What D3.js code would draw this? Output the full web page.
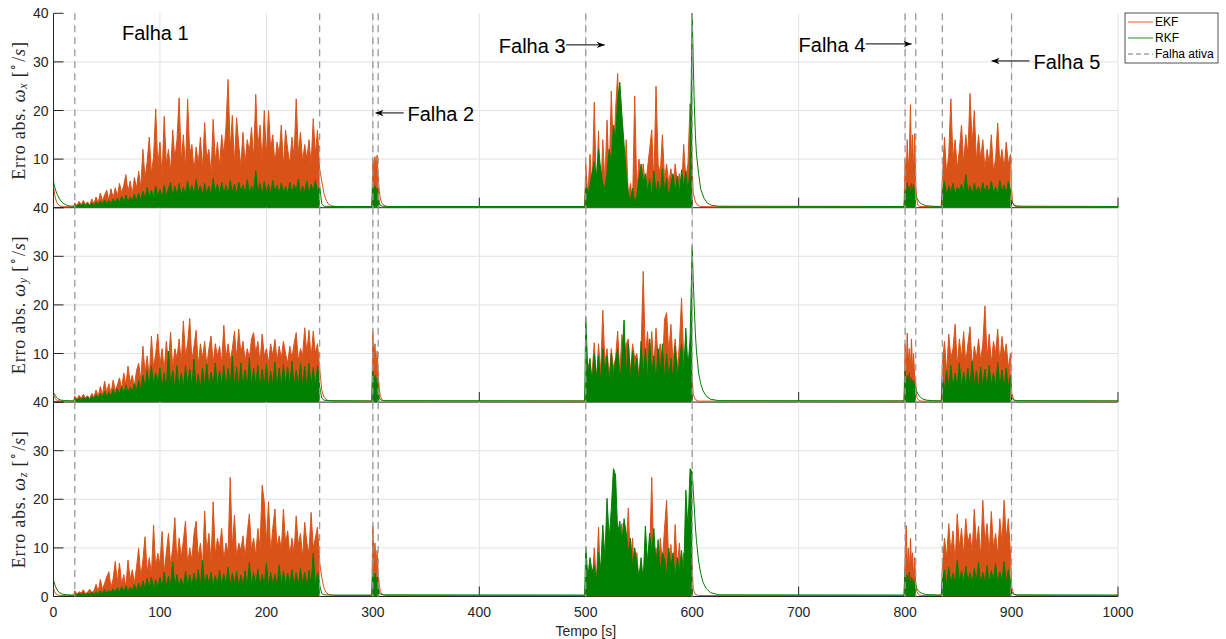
<!DOCTYPE html>
<html>
<head>
<meta charset="utf-8">
<script src="https://cdn.jsdelivr.net/npm/d3@7"></script>
<style>
  html, body { margin: 0; padding: 0; background: #ffffff; }
  svg { display: block; }
</style>
</head>
<body>
<svg id="chart" width="1226" height="639"></svg>
<script>
// ---------------------------------------------------------------
// Absolute angular-rate estimation error, EKF vs RKF, 3 axes
// ---------------------------------------------------------------
const xTicks = [0, 100, 200, 300, 400, 500, 600, 700, 800, 900, 1000];
const yTicks = [0, 10, 20, 30, 40];
const axisNames = ["x", "y", "z"];
const seriesNames = ["EKF", "RKF", "Falha ativa"];

// instants where a fault starts / ends [s]
const faultEdges = [20, 250, 300, 305, 500, 600, 800, 810, 835, 900];

// sampling of each fault window: [start time, step] (s)
const faultGrid = [[20, 2], [300, 1], [500, 2], [800, 1], [835, 2]];

// ---- omega_x, EKF ----
const ekfXRest = [[0, 4.5], [1, 2.8], [2, 1.8], [3, 1.1], [4, 0.7], [6, 0.35], [9, 0.2], [19, 0.2],
  [252, 5.5], [254, 3.0], [256, 1.6], [258, 0.8], [261, 0.4], [265, 0.25], [280, 0.2], [299, 0.2],
  [307, 2.0], [308, 1.1], [310, 0.5], [313, 0.25], [330, 0.2], [499, 0.2],
  [601, 3.0], [603, 1.2], [605, 0.5], [608, 0.25], [620, 0.2], [799, 0.2],
  [811, 1.5], [812, 0.5], [814, 0.25], [834, 0.2],
  [900, 4.0], [901, 1.0], [903, 0.3], [910, 0.2], [1000, 0.2]];
const ekfX1 = [
  1.0, 0.4, 1.3, 0.6, 1.5, 0.7, 1.2, 0.5, 1.8, 0.8,
  2.2, 1.0, 3.0, 1.4, 2.6, 3.6, 1.5, 3.9, 2.0, 4.1,
  2.4, 5.0, 3.0, 4.6, 6.8, 3.2, 5.5, 2.8, 6.2, 4.0,
  7.5, 4.2, 12.0, 6.0, 9.5, 14.5, 7.0, 10.5, 20.3, 8.5,
  13.5, 6.5, 18.8, 9.0, 12.0, 7.5, 16.0, 10.0, 14.0, 22.6,
  9.5, 15.0, 8.0, 22.3, 11.0, 13.0, 7.5, 12.5, 9.0, 14.5,
  8.0, 17.5, 10.0, 12.0, 7.0, 18.2, 9.5, 13.5, 8.5, 15.0,
  11.0, 16.5, 26.4, 12.0, 19.0, 9.0, 18.5, 13.0, 8.5, 15.5,
  9.0, 14.0, 11.5, 16.5, 10.0, 23.3, 12.0, 17.0, 9.5, 20.0,
  10.5, 20.0, 12.0, 15.0, 9.0, 13.5, 11.0, 17.0, 8.5, 16.0,
  12.0, 9.0, 14.5, 10.5, 22.4, 11.0, 15.5, 9.5, 13.0, 10.0,
  14.0, 9.0, 18.3, 11.0, 16.0, 8.0];
const ekfX2 = [10.0, 7.5, 10.5, 8.0, 10.8, 6.5, 3.5];
const ekfX3 = [
  9.0, 2.5, 11.0, 4.0, 21.7, 3.0, 15.8, 1.0, 14.0, 5.0,
  18.0, 6.0, 24.0, 10.0, 20.0, 27.6, 12.0, 17.0, 3.0, 14.0,
  2.0, 5.0, 1.0, 23.0, 3.0, 10.0, 5.0, 9.0, 4.0, 8.0,
  12.0, 16.0, 5.0, 25.0, 9.0, 7.0, 15.0, 6.0, 9.0, 5.0,
  8.0, 4.0, 9.0, 5.0, 7.0, 3.0, 13.0, 6.0, 9.0, 21.4,
  8.0];
const ekfX4 = [10.0, 6.0, 14.0, 8.0, 11.0, 21.2, 9.0, 15.0, 7.0, 15.2, 5.0];
const ekfX5 = [
  6.0, 14.5, 7.0, 11.0, 22.4, 10.0, 14.0, 8.0, 12.0, 17.0,
  9.0, 15.0, 11.0, 23.5, 13.0, 20.0, 9.5, 15.0, 10.0, 14.0,
  8.0, 12.0, 9.0, 15.0, 7.5, 10.0, 17.4, 9.0, 12.0, 8.0,
  13.5, 9.0, 11.0];

// ---- omega_x, RKF ----
const rkfXRest = [[0, 5.3], [1, 4.4], [2, 3.6], [3, 3.0], [4, 2.5], [6, 1.7], [8, 1.1], [10, 0.8], [12, 0.55], [15, 0.35], [19, 0.3],
  [252, 0.8], [254, 0.3], [260, 0.25], [299, 0.25],
  [307, 0.5], [309, 0.3], [320, 0.25], [499, 0.25],
  [601, 30], [602, 21], [603, 15], [604, 11], [606, 7.0], [608, 3.8], [611, 2.0], [614, 1.0], [618, 0.5], [625, 0.3], [799, 0.25],
  [811, 2.0], [813, 1.2], [816, 0.7], [820, 0.4], [826, 0.3], [834, 0.25],
  [900, 1.5], [902, 0.6], [905, 0.35], [912, 0.3], [1000, 0.25]];
const rkfX1 = [
  0.6, 0.3, 0.8, 0.4, 0.9, 0.5, 0.8, 0.4, 1.0, 0.5,
  1.2, 0.6, 1.4, 0.7, 1.6, 0.8, 1.5, 0.9, 1.8, 1.0,
  2.0, 1.0, 2.3, 1.2, 2.6, 1.3, 2.2, 1.4, 2.8, 1.5,
  3.0, 1.6, 3.4, 1.8, 4.2, 2.0, 3.6, 1.9, 4.5, 2.2,
  3.8, 2.0, 4.6, 2.4, 3.9, 5.2, 2.3, 4.4, 2.6, 5.0,
  2.5, 4.2, 2.8, 5.5, 3.0, 4.6, 2.4, 5.8, 3.2, 4.5,
  2.6, 5.0, 3.0, 4.4, 2.5, 6.0, 3.2, 4.8, 2.8, 5.2,
  3.0, 4.6, 2.7, 5.6, 3.1, 4.9, 2.6, 5.3, 3.3, 4.7,
  2.8, 5.8, 3.0, 4.5, 3.4, 7.6, 3.0, 5.0, 2.7, 5.4,
  3.1, 4.8, 2.8, 5.6, 3.3, 4.6, 2.9, 5.1, 3.2, 4.4,
  2.7, 5.3, 3.0, 4.7, 3.4, 5.9, 2.8, 4.5, 3.1, 5.5,
  2.9, 4.8, 3.3, 5.6, 3.0, 4.6];
const rkfX2 = [4.2, 3.0, 4.5, 3.2, 4.0, 2.5, 1.0];
const rkfX3 = [
  5.0, 3.0, 4.5, 7.0, 9.5, 6.0, 12.0, 8.0, 5.0, 4.0,
  7.0, 12.0, 9.0, 17.0, 14.0, 22.0, 25.8, 19.0, 13.0, 7.0,
  3.0, 1.5, 4.0, 1.0, 2.5, 6.0, 9.0, 5.0, 7.0, 3.0,
  6.0, 2.0, 7.5, 3.0, 5.5, 2.5, 8.0, 3.5, 6.0, 2.0,
  5.0, 7.0, 3.0, 6.5, 2.5, 7.8, 4.0, 7.5, 3.0, 8.0,
  40.5];
const rkfX4 = [3.5, 2.0, 5.2, 3.0, 4.5, 2.5, 5.0, 3.2, 4.8, 2.8, 3.0];
const rkfX5 = [
  3.0, 5.5, 2.5, 4.5, 3.2, 5.0, 2.8, 4.2, 3.5, 4.8,
  3.0, 6.8, 3.2, 4.5, 2.7, 5.0, 3.3, 4.4, 2.9, 5.2,
  3.1, 4.6, 2.8, 5.5, 3.0, 4.3, 2.6, 5.6, 3.2, 4.7,
  2.9, 5.4, 3.5];

// ---- omega_y, EKF ----
const ekfYRest = [[0, 1.5], [2, 0.6], [4, 0.3], [8, 0.2], [19, 0.2],
  [252, 2.5], [254, 1.0], [257, 0.4], [262, 0.2], [299, 0.2],
  [307, 1.2], [309, 0.4], [312, 0.2], [499, 0.2],
  [601, 1.5], [603, 0.5], [606, 0.2], [799, 0.2],
  [811, 1.0], [813, 0.3], [816, 0.2], [834, 0.2],
  [900, 2.0], [902, 0.5], [905, 0.2], [1000, 0.2]];
const ekfY1 = [
  1.2, 0.6, 1.4, 0.8, 1.6, 0.9, 1.3, 0.7, 1.8, 1.0,
  2.5, 1.2, 3.2, 1.5, 4.3, 2.0, 3.8, 1.8, 4.5, 2.4,
  3.5, 5.0, 2.8, 6.0, 3.5, 7.4, 4.0, 5.5, 3.2, 6.5,
  8.0, 4.5, 11.5, 6.0, 9.5, 5.0, 13.6, 7.0, 10.0, 14.0,
  7.5, 11.0, 6.5, 12.5, 8.0, 14.4, 7.0, 11.0, 9.0, 13.0,
  8.0, 16.7, 9.5, 12.0, 17.2, 8.5, 11.5, 14.8, 7.5, 12.0,
  9.0, 12.5, 7.5, 11.0, 13.6, 8.0, 12.0, 9.5, 11.5, 8.0,
  15.8, 9.0, 12.0, 8.5, 11.0, 14.6, 9.0, 15.0, 10.0, 12.5,
  8.5, 11.0, 9.0, 13.0, 14.3, 10.0, 12.5, 8.0, 14.0, 9.5,
  11.0, 8.0, 12.0, 9.5, 12.9, 8.5, 11.5, 9.0, 12.5, 10.0,
  8.0, 11.5, 9.0, 12.0, 14.3, 8.5, 11.0, 9.5, 15.3, 10.0,
  14.8, 9.0, 14.6, 10.0, 12.0, 7.0];
const ekfY2 = [14.6, 8.0, 12.0, 7.0, 10.5, 6.0, 3.0];
const ekfY3 = [
  5.0, 8.0, 3.0, 6.0, 12.2, 4.0, 12.0, 6.0, 18.9, 8.0,
  11.0, 5.0, 11.0, 7.0, 9.0, 14.6, 6.0, 13.9, 8.0, 12.0,
  13.0, 6.0, 12.0, 9.0, 10.0, 5.0, 11.0, 26.9, 9.0, 14.5,
  8.0, 14.5, 7.0, 15.2, 9.0, 12.0, 6.0, 17.0, 18.4, 10.0,
  16.0, 8.0, 13.0, 7.0, 12.0, 21.4, 9.0, 11.0, 6.0, 10.0,
  5.0];
const ekfY4 = [12.0, 6.0, 14.2, 8.0, 11.0, 7.0, 13.0, 6.5, 10.0, 5.0, 4.0];
const ekfY5 = [
  8.0, 12.5, 6.0, 14.0, 9.0, 11.0, 16.0, 7.5, 13.0, 9.0,
  14.5, 8.0, 12.0, 15.5, 7.0, 11.5, 9.0, 13.0, 8.5, 12.0,
  19.8, 9.0, 14.0, 8.0, 12.5, 10.0, 15.0, 8.0, 13.5, 9.5,
  12.0, 7.0, 10.0];

// ---- omega_y, RKF ----
const rkfYRest = [[0, 2.0], [2, 1.2], [4, 0.7], [7, 0.4], [12, 0.3], [19, 0.25],
  [252, 0.8], [254, 0.4], [258, 0.3], [299, 0.25],
  [307, 0.5], [309, 0.3], [499, 0.25],
  [601, 25], [602, 19], [603, 14], [604, 10.5], [606, 6.0], [608, 3.8], [610, 2.4], [613, 1.3], [617, 0.6], [625, 0.3], [799, 0.25],
  [811, 2.2], [813, 1.3], [816, 0.7], [820, 0.4], [826, 0.3], [834, 0.25],
  [900, 1.0], [902, 0.4], [906, 0.3], [1000, 0.25]];
const rkfY1 = [
  0.8, 0.4, 0.9, 0.5, 1.0, 0.6, 1.1, 0.5, 1.2, 0.7,
  1.5, 0.8, 1.8, 1.0, 2.2, 1.1, 2.0, 1.2, 2.6, 1.4,
  2.8, 1.6, 3.2, 1.8, 3.5, 2.0, 3.0, 2.2, 3.8, 2.4,
  4.5, 2.5, 5.5, 3.0, 6.5, 3.2, 7.5, 3.5, 6.0, 4.0,
  7.0, 3.0, 6.0, 2.6, 10.5, 3.2, 6.5, 2.8, 7.5, 3.0,
  6.0, 2.7, 7.5, 3.3, 6.8, 2.9, 8.8, 3.1, 5.8, 2.6,
  7.0, 3.2, 7.8, 2.8, 6.2, 3.4, 8.0, 2.9, 6.5, 3.1,
  7.6, 2.7, 6.9, 3.3, 9.5, 3.0, 7.2, 2.8, 8.0, 3.2,
  6.6, 3.0, 9.0, 2.9, 7.0, 3.3, 7.6, 2.7, 6.8, 3.1,
  7.8, 2.8, 6.4, 3.2, 8.2, 3.0, 7.0, 2.9, 7.7, 3.3,
  7.2, 3.1, 8.4, 2.8, 6.6, 3.4, 7.9, 3.0, 7.4, 2.9,
  8.0, 3.2, 7.1, 3.0, 7.5, 3.3];
const rkfY2 = [6.4, 3.5, 5.5, 3.0, 5.0, 2.5, 1.0];
const rkfY3 = [
  17.5, 6.0, 9.0, 4.0, 10.0, 5.0, 9.5, 4.0, 11.0, 6.0,
  9.5, 3.5, 10.0, 5.0, 8.5, 11.0, 4.0, 9.0, 16.9, 5.0,
  12.0, 4.5, 10.5, 6.0, 9.0, 3.5, 12.5, 5.0, 11.0, 4.0,
  13.0, 5.5, 9.5, 4.0, 11.0, 6.0, 12.0, 4.5, 10.0, 5.0,
  9.0, 4.0, 11.5, 5.5, 8.0, 12.0, 6.0, 15.2, 7.0, 13.0,
  32.1];
const rkfY4 = [6.4, 3.5, 5.5, 4.0, 6.0, 3.2, 5.0, 3.8, 4.5, 3.0, 3.0];
const rkfY5 = [
  5.0, 2.5, 6.5, 3.0, 7.5, 2.8, 6.0, 3.2, 8.0, 2.7,
  6.2, 3.1, 7.0, 2.9, 8.5, 3.3, 6.4, 2.6, 7.2, 3.0,
  6.8, 2.8, 7.6, 3.2, 6.0, 2.9, 8.2, 3.1, 6.6, 2.7,
  7.0, 3.0, 5.5];

// ---- omega_z, EKF ----
const ekfZRest = [[0, 1.8], [1, 1.0], [2, 0.6], [4, 0.3], [8, 0.2], [19, 0.2],
  [252, 4.0], [254, 1.8], [256, 0.8], [259, 0.4], [264, 0.2], [299, 0.2],
  [307, 1.0], [309, 0.4], [312, 0.2], [499, 0.2],
  [601, 1.5], [603, 0.4], [606, 0.2], [799, 0.2],
  [811, 1.0], [813, 0.3], [816, 0.2], [834, 0.2],
  [900, 2.0], [902, 0.5], [905, 0.2], [1000, 0.2]];
const ekfZ1 = [
  1.2, 0.5, 1.0, 0.7, 1.4, 0.6, 0.9, 1.5, 0.8, 1.2,
  2.5, 1.0, 3.5, 1.5, 2.7, 4.0, 5.1, 1.8, 3.6, 7.2,
  3.0, 6.9, 2.5, 4.5, 2.0, 7.5, 3.5, 5.5, 2.8, 6.0,
  9.9, 4.0, 7.5, 12.3, 5.0, 8.0, 4.5, 14.7, 6.0, 8.9,
  6.5, 13.4, 5.0, 9.0, 13.0, 6.5, 10.0, 16.2, 7.0, 12.0,
  8.0, 11.5, 15.5, 6.5, 10.0, 7.5, 13.0, 15.5, 8.0, 11.0,
  6.0, 17.6, 9.0, 13.0, 7.0, 19.5, 8.5, 12.0, 10.0, 14.0,
  7.5, 11.0, 9.0, 24.5, 10.0, 16.7, 8.0, 11.0, 9.5, 12.5,
  8.0, 13.0, 17.0, 9.5, 12.0, 8.5, 14.0, 10.0, 22.9, 19.5,
  11.0, 19.5, 9.0, 14.0, 18.0, 10.0, 12.5, 9.5, 18.0, 11.0,
  13.5, 8.5, 12.0, 9.0, 16.6, 10.5, 13.0, 8.0, 15.3, 11.0,
  9.0, 17.3, 10.0, 12.0, 14.3, 7.0];
const ekfZ2 = [14.6, 7.0, 11.0, 6.0, 9.5, 5.0, 2.5];
const ekfZ3 = [
  4.0, 1.6, 3.0, 2.0, 10.0, 3.0, 14.3, 2.0, 6.0, 3.0,
  11.0, 4.0, 10.0, 2.0, 8.0, 3.0, 12.0, 15.0, 5.0, 10.0,
  18.2, 6.0, 12.0, 3.0, 9.0, 2.0, 7.0, 1.5, 11.0, 5.0,
  8.0, 24.5, 6.0, 10.0, 4.0, 12.0, 7.0, 14.0, 19.8, 6.0,
  10.7, 4.0, 14.8, 6.0, 11.0, 3.0, 9.0, 5.0, 12.0, 18.6,
  6.0];
const ekfZ4 = [8.0, 14.6, 6.0, 10.0, 5.0, 12.0, 7.0, 9.0, 4.0, 8.0, 3.0];
const ekfZ5 = [
  6.0, 12.0, 8.0, 15.0, 9.0, 13.5, 7.0, 17.0, 10.0, 14.0,
  8.5, 16.0, 11.0, 13.0, 9.0, 18.0, 10.5, 14.5, 8.0, 19.8,
  11.0, 15.0, 9.0, 17.5, 10.0, 13.0, 8.5, 16.0, 11.0, 19.8,
  12.0, 16.0, 9.0];

// ---- omega_z, RKF ----
const rkfZRest = [[0, 3.4], [1, 2.6], [2, 2.0], [3, 1.5], [5, 0.9], [8, 0.5], [12, 0.35], [19, 0.3],
  [252, 0.6], [254, 0.35], [258, 0.3], [299, 0.3],
  [307, 0.5], [309, 0.35], [499, 0.3],
  [601, 22], [602, 18], [603, 14.3], [604, 11.5], [606, 7.3], [608, 4.8], [610, 3.0], [613, 1.7], [617, 0.8], [625, 0.35], [799, 0.3],
  [811, 1.6], [813, 1.0], [816, 0.6], [820, 0.4], [834, 0.3],
  [900, 1.0], [902, 0.45], [906, 0.35], [1000, 0.3]];
const rkfZ1 = [
  0.6, 0.3, 0.7, 0.4, 0.8, 0.4, 0.7, 0.5, 0.9, 0.5,
  1.0, 0.5, 1.2, 0.6, 1.4, 0.7, 1.3, 0.8, 1.6, 0.9,
  1.8, 0.9, 2.0, 1.0, 2.2, 1.1, 1.9, 1.2, 2.5, 1.3,
  2.8, 1.4, 3.2, 1.5, 3.8, 1.6, 4.0, 1.5, 3.5, 1.8,
  4.0, 1.9, 5.0, 2.0, 4.2, 2.2, 7.1, 2.0, 4.5, 2.1,
  3.8, 1.8, 5.2, 2.3, 4.4, 2.0, 4.8, 2.2, 5.5, 1.9,
  7.5, 2.1, 4.6, 2.4, 5.0, 2.0, 4.3, 2.3, 5.4, 2.1,
  4.7, 2.2, 6.0, 2.0, 4.8, 2.4, 5.1, 2.1, 4.4, 2.3,
  5.3, 2.0, 7.0, 2.2, 4.9, 2.5, 5.6, 2.1, 4.6, 2.3,
  6.8, 2.1, 5.0, 2.4, 4.5, 2.2, 6.5, 2.0, 5.2, 2.3,
  4.8, 2.5, 5.5, 2.1, 4.9, 2.2, 5.8, 2.4, 5.0, 2.1,
  5.4, 2.3, 8.9, 2.2, 5.0, 2.4];
const rkfZ2 = [5.5, 3.0, 4.8, 2.5, 4.0, 2.0, 0.8];
const rkfZ3 = [
  10.2, 4.0, 8.0, 5.0, 6.5, 3.0, 9.0, 5.5, 14.7, 8.0,
  20.2, 12.0, 18.0, 26.3, 25.0, 13.0, 15.5, 11.0, 16.0, 13.0,
  9.0, 12.0, 6.0, 10.0, 7.0, 4.0, 8.0, 3.0, 14.5, 7.0,
  13.0, 9.0, 14.0, 6.0, 11.7, 5.0, 9.0, 7.7, 4.0, 10.0,
  6.0, 9.0, 3.5, 8.0, 5.0, 9.5, 4.0, 21.9, 14.0, 26.3,
  25.6];
const rkfZ4 = [5.5, 2.5, 4.5, 3.0, 5.0, 2.2, 4.0, 2.8, 3.5, 2.0, 2.5];
const rkfZ5 = [
  3.0, 5.5, 2.4, 6.0, 2.8, 4.8, 2.5, 7.5, 3.0, 5.2,
  2.6, 6.2, 3.1, 4.9, 2.7, 5.8, 3.2, 7.0, 2.5, 5.0,
  3.0, 6.4, 2.6, 5.3, 3.3, 6.8, 2.8, 5.1, 3.0, 7.2,
  2.7, 5.6, 3.0];

// ---------------------------------------------------------------
// assemble series
// ---------------------------------------------------------------
function buildSeries(rest, windows) {
  const segs = windows.map((vals, k) => {
    const [t0, dt] = faultGrid[k];
    return vals.map((v, i) => ({ t: t0 + i * dt, v }));
  });
  const pts = rest.map(([t, v]) => ({ t, v })).concat(...segs);
  pts.sort((a, b) => a.t - b.t);
  return { pts, segs };
}

const panels = [
  { axis: axisNames[0],
    ekf: buildSeries(ekfXRest, [ekfX1, ekfX2, ekfX3, ekfX4, ekfX5]),
    rkf: buildSeries(rkfXRest, [rkfX1, rkfX2, rkfX3, rkfX4, rkfX5]) },
  { axis: axisNames[1],
    ekf: buildSeries(ekfYRest, [ekfY1, ekfY2, ekfY3, ekfY4, ekfY5]),
    rkf: buildSeries(rkfYRest, [rkfY1, rkfY2, rkfY3, rkfY4, rkfY5]) },
  { axis: axisNames[2],
    ekf: buildSeries(ekfZRest, [ekfZ1, ekfZ2, ekfZ3, ekfZ4, ekfZ5]),
    rkf: buildSeries(rkfZRest, [rkfZ1, rkfZ2, rkfZ3, rkfZ4, rkfZ5]) }
];

// ---------------------------------------------------------------
// layout & styles
// ---------------------------------------------------------------
const COLORS = { ekf: "#D95319", rkf: "#008000", fault: "#9a9a9a", axis: "#262626", grid: "#e3e3e3" };
const left = 53.5, right = 1118, top0 = 13.3, panelH = 194.4;
const TICK = 10;
const sans = "'Liberation Sans', Arial, Helvetica, sans-serif";
const serif = "'Liberation Serif', 'Times New Roman', serif";

const svg = d3.select("#chart");
const x = d3.scaleLinear().domain([0, 1000]).range([left, right]);

const defs = svg.append("defs");
defs.append("marker")
  .attr("id", "arrowhead")
  .attr("viewBox", "0 0 10 10")
  .attr("refX", 10).attr("refY", 5)
  .attr("markerUnits", "userSpaceOnUse")
  .attr("markerWidth", 10).attr("markerHeight", 8)
  .attr("orient", "auto")
  .append("path").attr("d", "M0,1 L10,5 L0,9 L3,5 Z").attr("fill", "#000");

panels.forEach((p, i) => {
  const top = top0 + i * panelH;
  const bottom = top + panelH;
  const y = d3.scaleLinear().domain([0, 40]).range([bottom, top]);
  const g = svg.append("g");

  defs.append("clipPath").attr("id", "clip" + i)
    .append("rect").attr("x", left).attr("y", top).attr("width", right - left).attr("height", panelH);

  // grid
  g.append("g").selectAll("line").data(xTicks.filter(d => d > 0)).join("line")
    .attr("x1", d => x(d)).attr("x2", d => x(d)).attr("y1", top).attr("y2", bottom)
    .attr("stroke", COLORS.grid).attr("stroke-width", 1);
  g.append("g").selectAll("line").data(yTicks.filter(d => d > 0 && d < 40)).join("line")
    .attr("x1", left).attr("x2", right).attr("y1", d => y(d)).attr("y2", d => y(d))
    .attr("stroke", COLORS.grid).attr("stroke-width", 1);

  // axis lines & inward ticks
  const ax = g.append("g").attr("stroke", COLORS.axis).attr("stroke-width", 1);
  ax.append("line").attr("x1", left).attr("x2", left).attr("y1", top).attr("y2", bottom);
  ax.append("line").attr("x1", left).attr("x2", right).attr("y1", bottom).attr("y2", bottom);
  ax.selectAll(".yt").data(yTicks).join("line").attr("class", "yt")
    .attr("x1", left).attr("x2", left + TICK).attr("y1", d => y(d)).attr("y2", d => y(d));
  ax.selectAll(".xt").data(xTicks).join("line").attr("class", "xt")
    .attr("x1", d => x(d)).attr("x2", d => x(d)).attr("y1", bottom).attr("y2", bottom - TICK);

  // data
  const plot = g.append("g").attr("clip-path", `url(#clip${i})`);
  const area = d3.area().x(d => x(d.t)).y0(y(0)).y1(d => y(d.v));
  const line = d3.line().x(d => x(d.t)).y(d => y(d.v));
  [["ekf", p.ekf], ["rkf", p.rkf]].forEach(([key, s]) => {
    plot.append("g").selectAll("path").data(s.segs).join("path")
      .attr("d", area).attr("fill", COLORS[key]).attr("stroke", "none");
    plot.append("path").datum(s.pts).attr("d", line)
      .attr("fill", "none").attr("stroke", COLORS[key]).attr("stroke-width", 1)
      .attr("stroke-linejoin", "round");
  });

  // fault markers
  g.append("g").selectAll("line").data(faultEdges).join("line")
    .attr("x1", d => x(d)).attr("x2", d => x(d)).attr("y1", top).attr("y2", bottom)
    .attr("stroke", COLORS.fault).attr("stroke-width", 1.3).attr("stroke-dasharray", "7,5");

  // y tick labels (the lower panel's "40" sits on this panel's zero)
  const shownY = i < panels.length - 1 ? yTicks.filter(d => d > 0) : yTicks;
  g.append("g").selectAll("text").data(shownY).join("text")
    .attr("x", left - 5).attr("y", d => y(d))
    .attr("text-anchor", "end").attr("dominant-baseline", "central")
    .attr("font-family", sans).attr("font-size", 14).attr("fill", COLORS.axis)
    .text(d => d);

  // y label (LaTeX-like)
  const lbl = g.append("text")
    .attr("transform", `translate(19,${(top + bottom) / 2}) rotate(-90)`)
    .attr("text-anchor", "middle").attr("dominant-baseline", "central")
    .attr("font-family", serif).attr("font-size", 18).attr("fill", COLORS.axis)
    .attr("letter-spacing", 0.8);
  lbl.append("tspan").text("Erro abs. ");
  lbl.append("tspan").attr("font-style", "italic").text("ω");
  lbl.append("tspan").attr("font-style", "italic").attr("font-size", 12).attr("dy", 4).text(p.axis);
  lbl.append("tspan").attr("dy", -4).text(" [");
  lbl.append("tspan").attr("font-size", 12).attr("dy", -6).text("∘");
  lbl.append("tspan").attr("dy", 6).text("/");
  lbl.append("tspan").attr("font-style", "italic").text("s");
  lbl.append("tspan").text("]");

  if (i === 2) {
    g.append("g").selectAll("text").data(xTicks).join("text")
      .attr("x", d => x(d)).attr("y", bottom + 15)
      .attr("text-anchor", "middle").attr("dominant-baseline", "central")
      .attr("font-family", sans).attr("font-size", 14).attr("fill", COLORS.axis)
      .text(d => d);
    g.append("text").attr("x", (left + right) / 2).attr("y", bottom + 34)
      .attr("text-anchor", "middle").attr("dominant-baseline", "central")
      .attr("font-family", sans).attr("font-size", 14).attr("fill", COLORS.axis)
      .text("Tempo [s]");
  }

  if (i === 0) {
    // fault annotations (time in s, value in °/s)
    const ann = g.append("g").attr("font-family", sans).attr("font-size", 20).attr("fill", "#000");
    const notes = [
      { text: "Falha 1", tx: 64.3, ty: 36.0, anchor: "start" },
      { text: "Falha 2", tx: 332.5, ty: 19.3, anchor: "start", a: [329, 302.5, 19.5] },
      { text: "Falha 3", tx: 481.0, ty: 33.3, anchor: "end", a: [481.5, 517.8, 33.5] },
      { text: "Falha 4", tx: 762.6, ty: 33.5, anchor: "end", a: [763.0, 806.1, 33.7] },
      { text: "Falha 5", tx: 920.7, ty: 30.0, anchor: "start", a: [916.9, 881.2, 30.2] }
    ];
    notes.forEach(n => {
      ann.append("text").attr("x", x(n.tx)).attr("y", y(n.ty))
        .attr("text-anchor", n.anchor).attr("dominant-baseline", "central").text(n.text);
      if (n.a) {
        ann.append("line").attr("x1", x(n.a[0])).attr("x2", x(n.a[1]))
          .attr("y1", y(n.a[2])).attr("y2", y(n.a[2]))
          .attr("stroke", "#000").attr("stroke-width", 1).attr("marker-end", "url(#arrowhead)");
      }
    });
  }
});

// legend
const lg = svg.append("g").attr("transform", "translate(1125,13)");
lg.append("rect").attr("width", 93).attr("height", 50).attr("fill", "#fff")
  .attr("stroke", COLORS.axis).attr("stroke-width", 0.8);
const legendStyle = [
  { color: COLORS.ekf, dash: null, op: 0.6 },
  { color: COLORS.rkf, dash: null, op: 0.55 },
  { color: COLORS.fault, dash: "5,3", op: 0.9 }
];
seriesNames.forEach((name, k) => {
  const yy = 9 + k * 16;
  lg.append("line").attr("x1", 3).attr("x2", 28).attr("y1", yy).attr("y2", yy)
    .attr("stroke", legendStyle[k].color).attr("stroke-width", 1.6)
    .attr("stroke-opacity", legendStyle[k].op)
    .attr("stroke-dasharray", legendStyle[k].dash);
  lg.append("text").attr("x", 30).attr("y", yy).attr("dominant-baseline", "central")
    .attr("font-family", sans).attr("font-size", 12).attr("fill", "#000").text(name);
});
</script>
</body>
</html>
